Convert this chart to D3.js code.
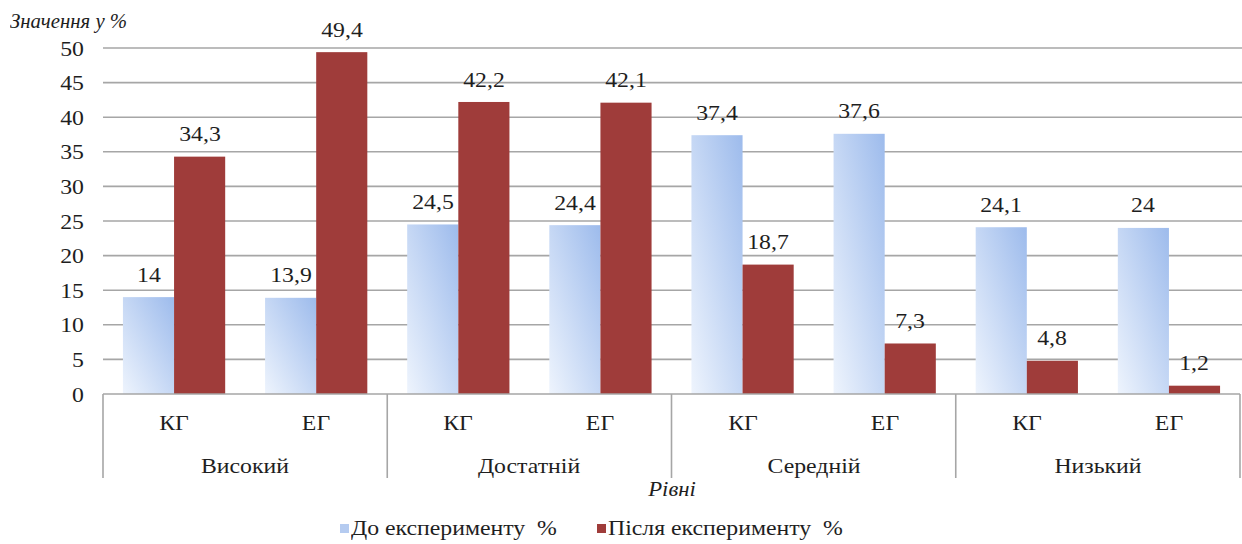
<!DOCTYPE html>
<html><head><meta charset="utf-8">
<script src="https://cdn.jsdelivr.net/npm/d3@7"></script>
</head>
<body style="margin:0;padding:0;background:#fff">
<div id="wrap" style="position:relative;width:1242px;height:544px;overflow:hidden">
<svg id="c" width="1242" height="544" style="position:absolute;left:0;top:0;display:block"></svg>
<div id="t" style="position:absolute;left:0;top:0;width:1242px;height:544px"></div>
</div>
<script>
const levels = ["Високий", "Достатній", "Середній", "Низький"];
const groups = ["КГ", "ЕГ"];
const seriesNames = ["До експерименту  %", "Після експерименту  %"];
const before = [14, 13.9, 24.5, 24.4, 37.4, 37.6, 24.1, 24];
const after = [34.3, 49.4, 42.2, 42.1, 18.7, 7.3, 4.8, 1.2];
const yTicks = [0, 5, 10, 15, 20, 25, 30, 35, 40, 45, 50];
const yTitle = "Значення у %";
const xTitle = "Рівні";

const FF = "'Liberation Serif', 'Tinos', 'Times New Roman', serif";
// prime the font cache
(function(){
  const c = document.createElement("canvas").getContext("2d");
  ["", "italic "].forEach(st => {
    c.font = `${st}22px 'Liberation Serif', monospace`;
    c.measureText("Значення у % Рівні Після експерименту 0123456789,");
  });
})();

const svg = d3.select("#c");
const layer = d3.select("#t");
const pLeft = 103, pRight = 1240, pTop = 48, pBase = 394;
const fmt = v => String(v).replace(".", ",");
const SX = 1.08;

function place(sel) {
  sel.style("position", "absolute")
    .style("white-space", "pre")
    .style("color", "#1e1e1e")
    .style("font-family", FF)
    .style("font-size", d => d.fs + "px")
    .style("line-height", d => d.fs + "px")
    .style("font-style", d => d.italic ? "italic" : "normal")
    .style("left", d => d.x + "px")
    .style("top", d => (d.y - 0.8375 * d.fs) + "px")
    .style("transform-origin", "0 0")
    .style("transform", d => {
      const sx = d.sx || SX;
      if (d.anchor === "middle") return `scaleX(${sx}) translateX(-50%)`;
      if (d.anchor === "end") return `scaleX(${sx}) translateX(-100%)`;
      return `scaleX(${sx})`;
    })
    .text(d => d.text);
}

const defs = svg.append("defs");
const grad = defs.append("linearGradient").attr("id","gb")
  .attr("x1","0").attr("y1","1").attr("x2","1").attr("y2","0");
grad.append("stop").attr("offset","0").attr("stop-color","#eef4fd");
grad.append("stop").attr("offset","1").attr("stop-color","#9dbbec");

const y = d3.scaleLinear().domain([0,50]).range([pBase, pTop]);
const x0 = d3.scaleBand().domain(levels).range([pLeft, pRight]).paddingInner(0).paddingOuter(0);
const x1 = d3.scaleBand().domain(groups).range([0, x0.bandwidth()]);
const x2 = d3.scaleBand().domain([0,1]).range([0, x1.bandwidth()]).paddingInner(0).paddingOuter(0.39);

// gridlines
svg.append("g").selectAll("line").data(yTicks.filter(t=>t>0)).join("line")
  .attr("x1", pLeft).attr("x2", 1242)
  .attr("y1", d=>y(d)).attr("y2", d=>y(d))
  .attr("stroke","#a6a6a6").attr("stroke-width",1.6);

// y tick labels
layer.append("div").selectAll("div").data(yTicks).join("div")
  .datum(d => ({x: 84, y: y(d) + 8, text: String(d), fs: 22, anchor: "end"}))
  .call(place);

// data rows
const rows = [];
levels.forEach((lv,i)=>groups.forEach((g,j)=>{
  const k = i*2+j;
  rows.push({lv,g,s:0,v:before[k]});
  rows.push({lv,g,s:1,v:after[k]});
}));

const bx = d => x0(d.lv) + x1(d.g) + x2(d.s);
svg.append("g").selectAll("rect").data(rows).join("rect")
  .attr("x", bx).attr("width", x2.bandwidth())
  .attr("y", d=>y(d.v)).attr("height", d=>pBase - y(d.v))
  .attr("fill", d=> d.s===0 ? "url(#gb)" : "#9f3c3a");

layer.append("div").selectAll("div").data(rows).join("div")
  .datum(d => ({x: bx(d) + x2.bandwidth()/2, y: y(d.v) - 15, text: fmt(d.v), fs: 22, anchor: "middle"}))
  .call(place);

// x axis baseline and separators
svg.append("line").attr("x1",pLeft).attr("x2",pRight).attr("y1",pBase).attr("y2",pBase)
  .attr("stroke","#a6a6a6").attr("stroke-width",1.6);
const seps = levels.map(l=>x0(l)).concat([pRight]);
svg.append("g").selectAll("line").data(seps).join("line")
  .attr("x1",d=>d).attr("x2",d=>d).attr("y1",pBase).attr("y2",478)
  .attr("stroke","#a6a6a6").attr("stroke-width",1.6);

// sub labels
const subs = [];
levels.forEach(lv=>groups.forEach(g=>subs.push({lv,g})));
layer.append("div").selectAll("div").data(subs).join("div")
  .datum(d => ({x: x0(d.lv)+x1(d.g)+x1.bandwidth()/2, y: 430, text: d.g, fs: 22, anchor: "middle"}))
  .call(place);
layer.append("div").selectAll("div").data(levels).join("div")
  .datum(d => ({x: x0(d)+x0.bandwidth()/2, y: 473, text: d, fs: 22, anchor: "middle"}))
  .call(place);

// titles
layer.append("div")
  .datum({x: 10, y: 28, text: yTitle, fs: 20, anchor: "start", italic: true, sx: 1.04}).call(place);
layer.append("div")
  .datum({x: (pLeft+pRight)/2, y: 497, text: xTitle, fs: 21, anchor: "middle", italic: true}).call(place);

// legend
const leg = [{x:340, fill:"#b5cbf0"},{x:597, fill:"#9f3c3a"}];
svg.append("g").selectAll("rect").data(seriesNames).join("rect")
  .attr("x",(d,i)=>leg[i].x).attr("y",524).attr("width",9).attr("height",9)
  .attr("fill",(d,i)=>leg[i].fill);
layer.append("div").selectAll("div").data(seriesNames).join("div")
  .datum((d,i) => ({x: leg[i].x + 11, y: 535, text: d, fs: 22, anchor: "start"}))
  .call(place);
</script>
</body></html>
